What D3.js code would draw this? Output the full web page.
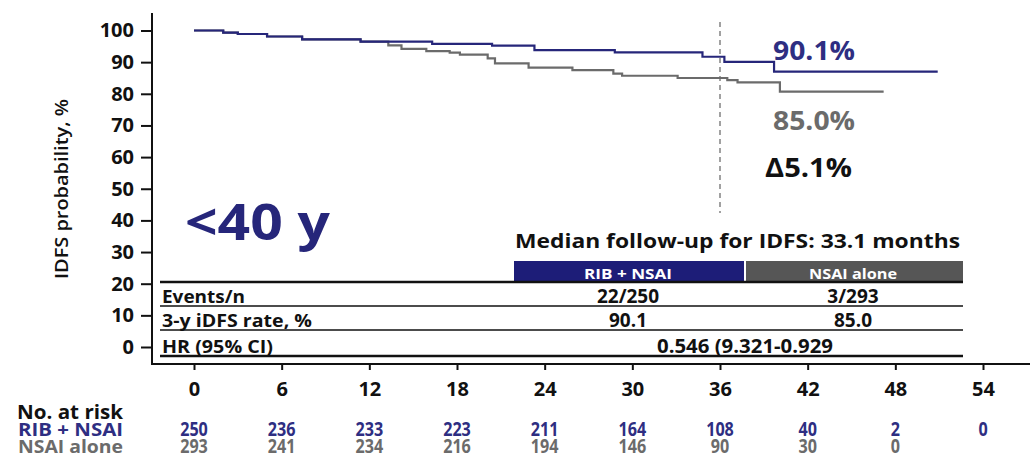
<!DOCTYPE html>
<html>
<head>
<meta charset="utf-8">
<script src="https://cdn.jsdelivr.net/npm/d3@7"></script>
<style>
  html, body { margin: 0; padding: 0; background: #fff; }
  svg { display: block; font-family: "Open Sans", "Noto Sans", sans-serif; }
</style>
</head>
<body>
<svg id="chart" width="1030" height="459"></svg>
<script>
// Kaplan–Meier step data (months, % event-free)
const ribTimes = [0, 2.0, 3.0, 5.0, 7.4, 11.4, 16.3, 20.4, 23.3, 28.8, 34.8, 36.3, 39.7, 50.9];
const ribSurv  = [100, 99.3, 98.9, 98.1, 97.2, 96.5, 95.8, 95.2, 93.8, 93.1, 91.7, 90.1, 87.0, 87.0];
const nsaiTimes = [0, 2.0, 3.0, 5.0, 7.4, 11.4, 13.3, 14.2, 15.9, 17.5, 18.2, 20.1, 20.6, 22.9, 25.9, 28.7, 29.3, 33.1, 36.5, 37.2, 40.1, 47.2];
const nsaiSurv  = [100, 99.3, 98.9, 98.1, 97.2, 96.5, 95.3, 94.2, 93.5, 93.0, 92.4, 91.2, 89.6, 88.3, 87.5, 86.4, 85.7, 85.0, 84.3, 83.6, 80.7, 80.7];

// Axis ticks
const monthTicks = [0, 6, 12, 18, 24, 30, 36, 42, 48, 54];
const probTicks = [0, 10, 20, 30, 40, 50, 60, 70, 80, 90, 100];

// Numbers at risk
const riskRib  = [250, 236, 233, 223, 211, 164, 108, 40, 2, 0];
const riskNsai = [293, 241, 234, 216, 194, 146, 90, 30, 0];

// 3-year rates and landmark
const landmark = 36;
const ribRate = 90.1, nsaiRate = 85.0;
const deltaLabel = "Δ5.1%";

// Summary table
const armNames = ["RIB + NSAI", "NSAI alone"];
const rowLabels = ["Events/n", "3-y iDFS rate, %", "HR (95% CI)"];
const ribCells  = ["22/250", "90.1"];
const nsaiCells = ["3/293", "85.0"];
const hrCell = "0.546 (9.321-0.929";
const followUp = "Median follow-up for IDFS: 33.1 months";
const subgroup = "<40 y";

const NAVY = "#26267a", LABELNAVY = "#2e2e82", GREY = "#6b6b6b", BARGREY = "#565656", INK = "#111";

const svg = d3.select("#chart");
const x = d3.scaleLinear().domain([0, 54]).range([194, 983]);
const y = d3.scaleLinear().domain([0, 100]).range([347, 30.5]);

// Axis lines
svg.append("line").attr("x1", 152).attr("x2", 152).attr("y1", 13).attr("y2", 365)
  .attr("stroke", INK).attr("stroke-width", 2);
svg.append("line").attr("x1", 151).attr("x2", 1030).attr("y1", 364).attr("y2", 364)
  .attr("stroke", INK).attr("stroke-width", 2);

// Y axis
const yAxis = svg.append("g").attr("transform", "translate(152,0)")
  .call(d3.axisLeft(y).tickValues(probTicks).tickSize(11).tickPadding(7));
yAxis.select(".domain").remove();
yAxis.selectAll(".tick line").attr("stroke", INK).attr("stroke-width", 2);
yAxis.selectAll(".tick text").attr("font-size", 20).attr("font-weight", 700)
  .attr("fill", INK).attr("font-family", "Open Sans");

// X axis
const xAxis = svg.append("g").attr("transform", "translate(0,364)")
  .call(d3.axisBottom(x).tickValues(monthTicks).tickSize(6).tickPadding(12));
xAxis.select(".domain").remove();
xAxis.selectAll(".tick line").attr("stroke", INK).attr("stroke-width", 2);
xAxis.selectAll(".tick text").attr("font-size", 20).attr("font-weight", 700)
  .attr("fill", INK).attr("font-family", "Open Sans");

// Y axis title
svg.append("text").attr("transform", "translate(68,189) rotate(-90)")
  .attr("text-anchor", "middle").attr("font-size", 18).attr("font-weight", 600)
  .attr("fill", INK).attr("textLength", 180).attr("lengthAdjust", "spacingAndGlyphs")
  .text("IDFS probability, %");

// Landmark line
svg.append("line").attr("x1", x(landmark)).attr("x2", x(landmark))
  .attr("y1", 22).attr("y2", 213)
  .attr("stroke", "#8a8a8a").attr("stroke-width", 1.6).attr("stroke-dasharray", "5,4");

// Survival curves
const step = d3.line().x(d => x(d[0])).y(d => y(d[1])).curve(d3.curveStepAfter);
svg.append("path").datum(d3.zip(nsaiTimes, nsaiSurv))
  .attr("d", step).attr("fill", "none").attr("stroke", GREY).attr("stroke-width", 2.2);
svg.append("path").datum(d3.zip(ribTimes, ribSurv))
  .attr("d", step).attr("fill", "none").attr("stroke", NAVY).attr("stroke-width", 2.2);

// Rate annotations
const bigLabel = (tx, ty, txt, fill, w) => svg.append("text").attr("x", tx).attr("y", ty)
  .attr("font-size", 27).attr("font-weight", 700).attr("fill", fill)
  .attr("textLength", w).attr("lengthAdjust", "spacingAndGlyphs").text(txt);
bigLabel(773, 60, ribRate.toFixed(1) + "%", LABELNAVY, 82);
bigLabel(773, 130, nsaiRate.toFixed(1) + "%", GREY, 82);
bigLabel(765, 177, deltaLabel, INK, 87);

// Subgroup label
svg.append("text").attr("x", 185).attr("y", 240).attr("font-size", 50).attr("font-weight", 700)
  .attr("fill", NAVY).attr("textLength", 145).attr("lengthAdjust", "spacingAndGlyphs").text(subgroup);

// Summary table
svg.append("text").attr("x", 515).attr("y", 248).attr("font-size", 19).attr("font-weight", 700)
  .attr("fill", INK).attr("textLength", 445).attr("lengthAdjust", "spacingAndGlyphs").text(followUp);

const barL = 514, barM = 744, barR = 963, barTop = 261, barBot = 282;
svg.append("rect").attr("x", barL).attr("y", barTop).attr("width", barM - barL).attr("height", barBot - barTop).attr("fill", "#1d1d78");
svg.append("rect").attr("x", barM + 2).attr("y", barTop).attr("width", barR - barM - 2).attr("height", barBot - barTop).attr("fill", BARGREY);
const colC = [628, 853];
armNames.forEach((n, i) => {
  svg.append("text").attr("x", colC[i]).attr("y", 279).attr("text-anchor", "middle")
    .attr("font-size", 15).attr("font-weight", 700).attr("fill", "#fff")
    .attr("textLength", 88).attr("lengthAdjust", "spacingAndGlyphs").text(n);
});

const ruleYs = [282, 306, 330, 356];
ruleYs.forEach((ry, i) => {
  svg.append("line").attr("x1", 160).attr("x2", barR).attr("y1", ry).attr("y2", ry)
    .attr("stroke", INK).attr("stroke-width", (i === 0 || i === 3) ? 2.4 : 1.6);
});
const labelWidths = [83, 150, 111];
rowLabels.forEach((t, i) => {
  svg.append("text").attr("x", 162).attr("y", ruleYs[i + 1] - 3).attr("font-size", 17)
    .attr("font-weight", 700).attr("fill", INK)
    .attr("textLength", labelWidths[i]).attr("lengthAdjust", "spacingAndGlyphs").text(t);
});
[ribCells, nsaiCells].forEach((cells, c) => {
  cells.forEach((t, i) => {
    svg.append("text").attr("x", colC[c]).attr("y", ruleYs[i + 1] - 3).attr("text-anchor", "middle")
      .attr("font-size", 19).attr("font-weight", 700).attr("fill", INK).text(t);
  });
});
svg.append("text").attr("x", 745).attr("y", ruleYs[3] - 3).attr("text-anchor", "middle")
  .attr("font-size", 19).attr("font-weight", 700).attr("fill", INK)
  .attr("textLength", 176).attr("lengthAdjust", "spacingAndGlyphs").text(hrCell);

// Numbers at risk
svg.append("text").attr("x", 123).attr("y", 419).attr("text-anchor", "end").attr("font-size", 20)
  .attr("font-weight", 700).attr("fill", INK).attr("textLength", 106).attr("lengthAdjust", "spacingAndGlyphs")
  .text("No. at risk");
svg.append("text").attr("x", 123).attr("y", 436).attr("text-anchor", "end").attr("font-size", 17)
  .attr("font-weight", 700).attr("fill", LABELNAVY).attr("textLength", 105).attr("lengthAdjust", "spacingAndGlyphs")
  .text(armNames[0]);
svg.append("text").attr("x", 123).attr("y", 453).attr("text-anchor", "end").attr("font-size", 17)
  .attr("font-weight", 700).attr("fill", GREY).attr("textLength", 105).attr("lengthAdjust", "spacingAndGlyphs")
  .text(armNames[1]);

const riskText = (tx, ty, v, fill) => svg.append("text")
  .attr("transform", `translate(${tx},${ty}) scale(0.85,1)`)
  .attr("text-anchor", "middle").attr("font-size", 19).attr("font-weight", 700)
  .attr("fill", fill).text(v);
riskRib.forEach((v, i) => riskText(x(monthTicks[i]), 436, v, LABELNAVY));
riskNsai.forEach((v, i) => riskText(x(monthTicks[i]), 453, v, GREY));
</script>
</body>
</html>
